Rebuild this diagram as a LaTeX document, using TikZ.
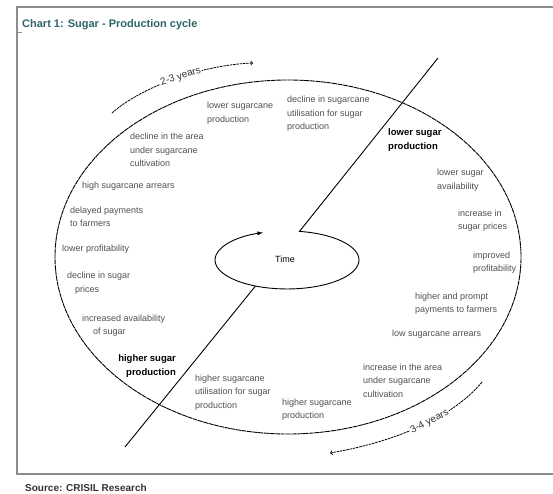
\documentclass[tikz,border=0pt]{standalone}
\usepackage{fontspec}
\setmainfont{Liberation Sans}
\usetikzlibrary{positioning,arrows}
\definecolor{titleteal}{RGB}{45,100,105}
\definecolor{lblgray}{RGB}{80,80,80}
\definecolor{framegray}{RGB}{140,140,140}

\begin{document}
\begin{tikzpicture}[x=1pt,y=1pt,
  lbl/.style={anchor=base west, align=left, inner sep=0pt, text=lblgray, font=\fontsize{9}{13.5}\selectfont},
  blbl/.style={anchor=base west, align=left, inner sep=0pt, font=\bfseries\fontsize{9.5}{14}\selectfont},
  cyc/.style={line width=0.9pt, dash pattern=on 5pt off 0.6pt},
  yrs/.style={line width=0.8pt, dash pattern=on 2.5pt off 0.8pt, ->},
  yrslbl/.style={sloped, fill=white, inner sep=1pt, text=black!80, font=\fontsize{10}{12}\selectfont}]
\useasboundingbox (0,0) rectangle (553,493);
\draw[framegray, line width=1.5pt] (553,486) -- (17,486) -- (17,19) -- (553,19);
\draw[framegray, line width=1pt] (17,460) -- (22,460);
\node[anchor=west, inner sep=0pt, text=titleteal, font=\bfseries\fontsize{11}{12}\selectfont](title) at (22,468) {Chart 1: Sugar - Production cycle};
\node[anchor=west, inner sep=0pt, text=black!80, font=\bfseries\fontsize{10}{12}\selectfont](source) at (25,5) {Source: CRISIL Research};

\draw[cyc] (288,236) ellipse [x radius=233, y radius=177];

\node[font=\fontsize{9}{11}\selectfont](time) at (285,234) {Time};
\coordinate (lo) at (125,46);
\coordinate (hi) at (438,435);
\coordinate (loopin) at (255.4,206.9);
\coordinate (loopout) at (299.5,261.6);
\draw[line width=0.9pt] (lo) -- (loopin);
\draw[line width=0.9pt, -latex] (hi) -- (loopout) arc[start angle=80, end angle=-250.5, x radius=72, y radius=29];

\coordinate (a23s) at (112,380);
\coordinate (a23e) at (253,430);
\draw[yrs] (a23s) .. controls (140,405) and (200,428) .. (a23e) node[yrslbl, pos=0.55](y23) {2-3 years};
\coordinate (a34s) at (482,111);
\coordinate (a34e) at (330,40);
\draw[yrs] (a34s) .. controls (455,78) and (400,52) .. (a34e) node[yrslbl, pos=0.45](y34) {3-4 years};

\node[lbl](lowcane) at (207,370.5) {lower sugarcane\\production};
\node[lbl](declutil) at (287,363) {decline in sugarcane\\utilisation for sugar\\production};
\node[blbl](lowsugar) at (388,343) {lower sugar\\production};
\node[lbl](lowavail) at (437,303.5) {lower sugar\\availability};
\node[lbl](incprice) at (458,263.5) {increase in\\sugar prices};
\node[lbl](improfit) at (473,221.5) {improved\\profitability};
\node[lbl](highpay) at (415,180.5) {higher and prompt\\payments to farmers};
\node[lbl](lowarr) at (392,157) {low sugarcane arrears};
\node[lbl](incarea) at (363,96) {increase in the area\\under sugarcane\\cultivation};
\node[lbl](highcane) at (282,74.5) {higher sugarcane\\production};
\node[lbl](highutil) at (195,85) {higher sugarcane\\utilisation for sugar\\production};
\node[blbl, anchor=base east, align=right](highsugar) at (176,118) {higher sugar\\production};
\node[lbl](incavail) at (82,158.5) {increased availability\\\hspace*{11pt}of sugar};
\node[lbl](declprice) at (67,201) {decline in sugar\\\hspace*{8pt}prices};
\node[lbl](lowprofit) at (62,242) {lower profitability};
\node[lbl](delaypay) at (70,266.5) {delayed payments\\to farmers};
\node[lbl](higharr) at (82,304) {high sugarcane arrears};
\node[lbl](declarea) at (130,326) {decline in the area\\under sugarcane\\cultivation};
\end{tikzpicture}
\end{document}
